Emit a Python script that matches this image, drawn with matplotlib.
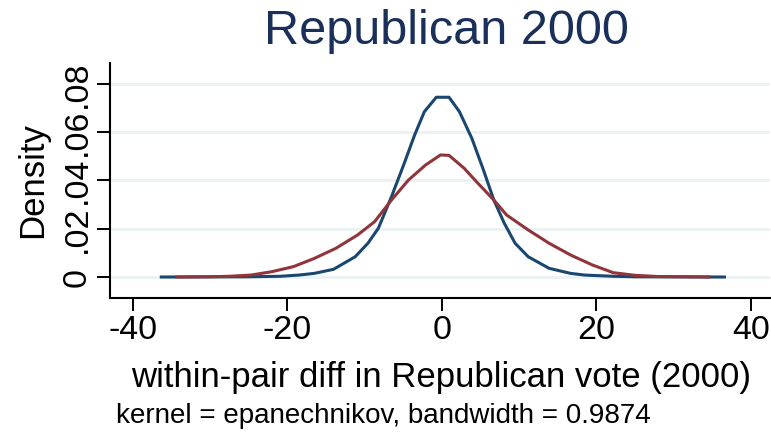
import matplotlib
matplotlib.use('Agg')
import matplotlib.pyplot as plt

plt.rcParams['font.family'] = ['Liberation Sans', 'DejaVu Sans']

# kernel density readings, 2000 Republican vote
blue_x = [-36.3, -25.0, -20.9, -18.5, -16.5, -14.0, -11.2, -9.55, -8.2, -6.5, -4.85, -3.5, -2.25, -0.7,
          0.95, 2.3, 3.9, 5.4, 6.75, 8.1, 9.5, 11.2, 13.9, 16.7, 18.5, 22.2, 25.0, 36.6]
blue_y = [0.0, 0.0001, 0.0003, 0.0008, 0.0015, 0.0032, 0.0084, 0.014, 0.0202, 0.0333, 0.0471, 0.0589, 0.0685, 0.0745,
          0.0745, 0.0685, 0.0575, 0.0444, 0.0319, 0.0223, 0.014, 0.0084, 0.0036, 0.0015, 0.0008, 0.0003, 0.0001, 0.0]

red_x = [-34.3, -30.0, -27.5, -24.7, -22.0, -19.2, -16.5, -13.7, -10.9, -8.7, -6.5, -4.3, -2.1, -0.15,
         0.95, 2.9, 4.5, 6.75, 8.4, 11.2, 13.9, 16.7, 19.5, 22.2, 25.0, 28.0, 34.6]
red_y = [0.0, 0.0001, 0.0003, 0.0008, 0.0022, 0.0043, 0.0077, 0.0119, 0.0174, 0.0229, 0.0319, 0.0402, 0.0464, 0.0506,
         0.0504, 0.0451, 0.0395, 0.0319, 0.0257, 0.0195, 0.014, 0.0091, 0.005, 0.0018, 0.0007, 0.0002, 0.0]

xticks = [-40, -20, 0, 20, 40]
yticks = [0, 0.02, 0.04, 0.06, 0.08]
ytick_labels = ['0', '.02', '.04', '.06', '.08']

fig = plt.figure(figsize=(7.71, 4.37), dpi=100)
ax = fig.add_axes([110/771, 139/437, 660/771, 235/437])

for y in yticks:
    ax.axhline(y, color='#eaf2f3', lw=2.0, zorder=0)
ax.plot(blue_x, blue_y, color='#1a476f', lw=2.2, zorder=3)
ax.plot(red_x, red_y, color='#90353b', lw=2.2, zorder=3)

ax.set_xlim(-42.94, 42.5)
ax.set_ylim(-0.0087, 0.0887)
ax.set_xticks(xticks)
ax.set_xticklabels([str(v) for v in xticks], fontsize=24.5)
ax.set_yticks(yticks)
ax.set_yticklabels(ytick_labels, fontsize=24.5, rotation=90, va='center')
for s in ['top', 'right']:
    ax.spines[s].set_visible(False)
for s in ['left', 'bottom']:
    ax.spines[s].set_linewidth(1.5)
ax.tick_params(axis='both', length=9.5, width=1.4, color='black', pad=3)

fig.text(446/771, 1 - 32/437, 'Republican 2000', fontsize=35, color='#1a2f5a', ha='center', va='center')
fig.text(441/771, 1 - 377/437, 'within-pair diff in Republican vote (2000)', fontsize=25,
         ha='center', va='center')
fig.text(33/771, 1 - 180/437, 'Density', fontsize=25, rotation=90, ha='center', va='center')
fig.text(116/771, 1 - 416/437, 'kernel = epanechnikov, bandwidth = 0.9874', fontsize=20,
         ha='left', va='center')

fig.savefig('out.png', dpi=100)
